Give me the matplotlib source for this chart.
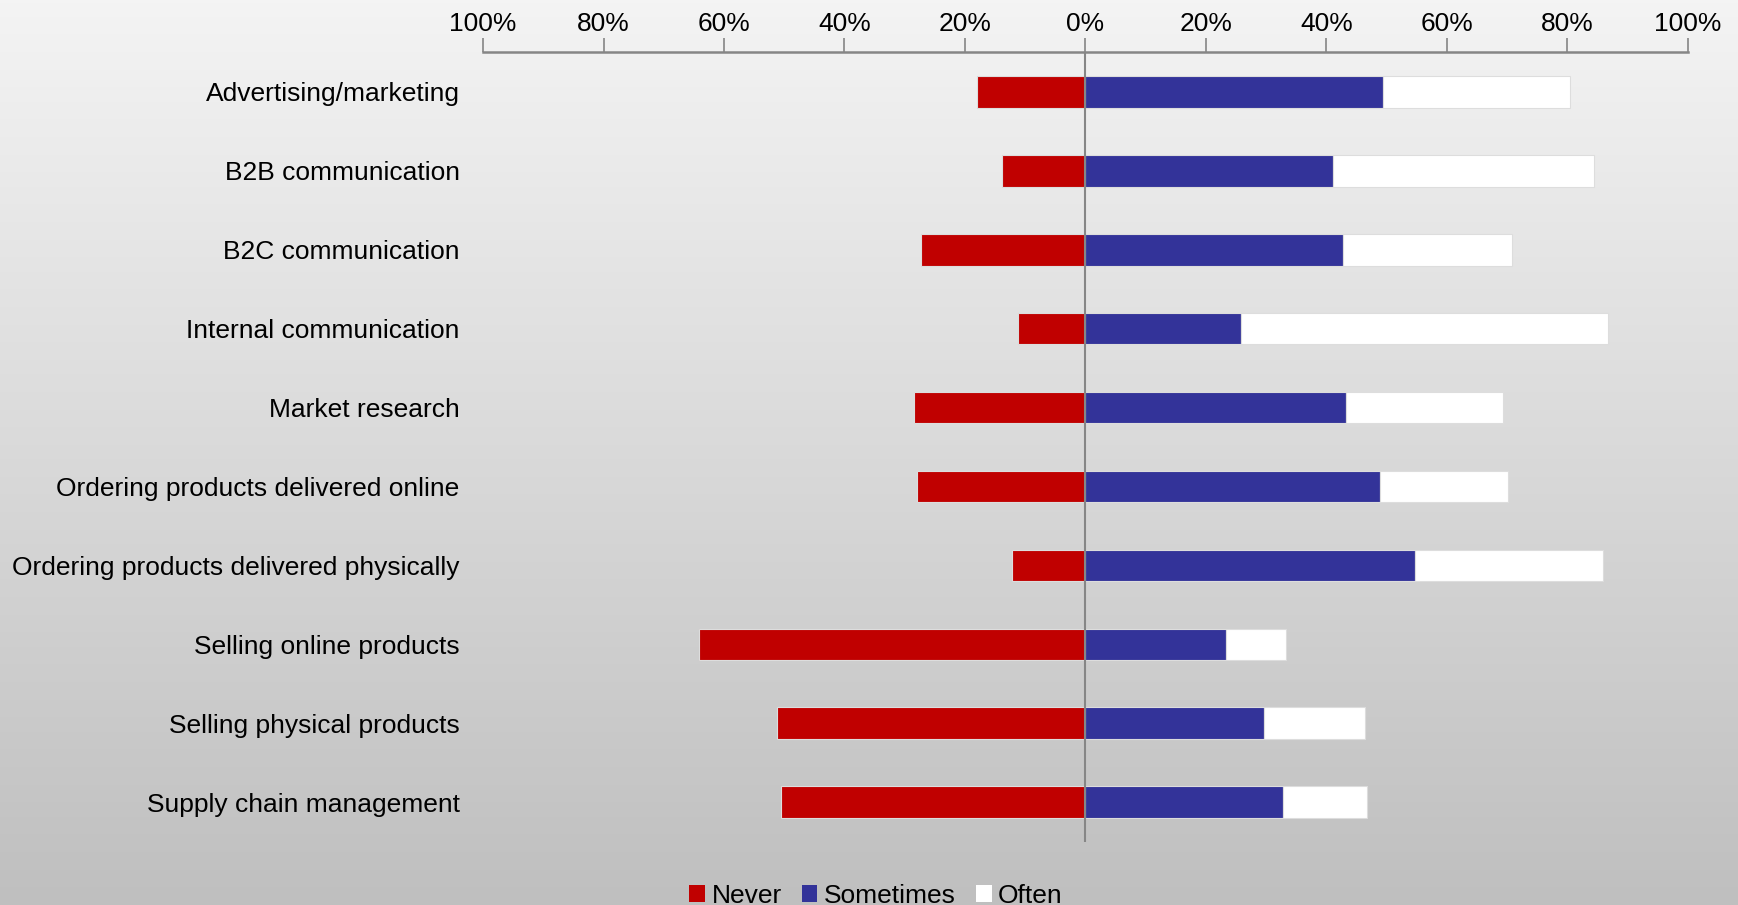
import numpy as np
import matplotlib
matplotlib.use("Agg")
import matplotlib.pyplot as plt
from matplotlib.ticker import FuncFormatter

categories = ["Advertising/marketing", "B2B communication", "B2C communication",
              "Internal communication", "Market research",
              "Ordering products delivered online",
              "Ordering products delivered physically",
              "Selling online products", "Selling physical products",
              "Supply chain management"]
never = [18.0, 13.8, 27.3, 11.2, 28.4, 28.0, 12.2, 64.2, 51.2, 50.6]
sometimes = [49.5, 41.1, 42.7, 25.9, 43.2, 49.0, 54.7, 23.4, 29.6, 32.8]
often = [31.0, 43.4, 28.1, 60.8, 26.2, 21.2, 31.2, 9.9, 16.9, 14.0]
ticks = [-100, -80, -60, -40, -20, 0, 20, 40, 60, 80, 100]

plt.rcParams['font.family'] = ['Liberation Sans', 'DejaVu Sans']

fig = plt.figure(figsize=(17.38, 9.05), dpi=100)

# gradient background
bg = fig.add_axes([0, 0, 1, 1])
grad = np.linspace(0, 1, 256).reshape(-1, 1)
cmap = matplotlib.colors.LinearSegmentedColormap.from_list("bg", ["#f4f4f4", "#bfbfbf"])
bg.imshow(grad, aspect="auto", cmap=cmap, extent=[0, 1, 0, 1], origin="upper")
bg.set_axis_off()

ax = fig.add_axes([0.278, 0.070, 0.693, 0.872])
ax.patch.set_alpha(0)

y = np.arange(len(categories))
h = 0.4
edge = dict(edgecolor="#dddddd", linewidth=0.8)
ax.barh(y, [-v for v in never], height=h, color="#C00000", label="Never", **edge)
ax.barh(y, sometimes, height=h, color="#333399", label="Sometimes", **edge)
ax.barh(y, often, left=sometimes, height=h, color="#FFFFFF", label="Often", **edge)

ax.set_xlim(-100, 100)
ax.set_ylim(len(categories) - 0.5, -0.5)
ax.axvline(0, color="#868686", linewidth=1.5, zorder=3)

ax.set_xticks(ticks)
ax.xaxis.set_major_formatter(FuncFormatter(lambda v, p: f"{abs(int(round(v)))}%"))
ax.xaxis.tick_top()
ax.tick_params(axis="x", direction="out", length=10, width=1.2, color="#868686",
               labelsize=19, pad=2)
ax.set_yticks(y)
ax.set_yticklabels(categories, fontsize=19)
ax.tick_params(axis="y", length=0, pad=17)

for s in ["left", "right", "bottom"]:
    ax.spines[s].set_visible(False)
ax.spines["top"].set_color("#868686")
ax.spines["top"].set_linewidth(1.8)

leg = fig.legend(loc="center", bbox_to_anchor=(0.504, 0.010), ncol=3, frameon=False,
                 fontsize=19, handlelength=0.6, handleheight=0.6,
                 handletextpad=0.25, columnspacing=0.75)
for p in leg.get_patches():
    p.set_edgecolor("none")

fig.savefig("out.png", dpi=100)
